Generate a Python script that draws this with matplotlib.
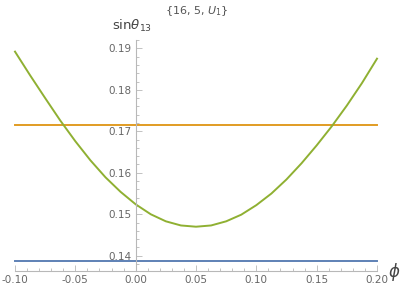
import numpy as np
import matplotlib
matplotlib.use('Agg')
import matplotlib.pyplot as plt
from matplotlib.ticker import MultipleLocator, FormatStrFormatter

# values
phi = [-0.10, -0.0875, -0.075, -0.0625, -0.05, -0.0375, -0.025, -0.0125,
       0.0, 0.0125, 0.025, 0.0375, 0.05, 0.0625, 0.075, 0.0875,
       0.10, 0.1125, 0.125, 0.1375, 0.15, 0.1625, 0.175, 0.1875, 0.20]
s13_green = [0.1892, 0.1835, 0.1780, 0.1726, 0.1676, 0.1630, 0.1589, 0.1554,
             0.1524, 0.1500, 0.1483, 0.1473, 0.1470, 0.1473, 0.1483, 0.1499,
             0.1522, 0.1550, 0.1584, 0.1623, 0.1666, 0.1712, 0.1762, 0.1816, 0.1875]
s13_orange = 0.1716
s13_blue = 0.1387
phi_range = [-0.10, 0.20]

fig = plt.figure(figsize=(4.06, 2.91), dpi=100)
ax = fig.add_axes([15/406, 0.0698, 362/406, 0.7927])

ax.plot(phi_range, [s13_blue]*2, color='#5E81B5', lw=1.4, clip_on=False)
ax.plot(phi_range, [s13_orange]*2, color='#E19C24', lw=1.4, clip_on=False)
ax.plot(phi, s13_green, color='#8FB032', lw=1.4, clip_on=False)

ax.set_xlim(-0.10, 0.20)
ax.set_ylim(0.1364, 0.1920)

for side in ['top', 'right']:
    ax.spines[side].set_visible(False)
ax.spines['left'].set_position(('data', 0))
for side in ['left', 'bottom']:
    ax.spines[side].set_color('#b8b8b8')
    ax.spines[side].set_linewidth(0.8)

ax.xaxis.set_major_locator(MultipleLocator(0.05))
ax.xaxis.set_minor_locator(MultipleLocator(0.01))
ax.yaxis.set_major_locator(MultipleLocator(0.01))
ax.yaxis.set_minor_locator(MultipleLocator(0.002))
ax.xaxis.set_major_formatter(FormatStrFormatter('%.2f'))
ax.yaxis.set_major_formatter(FormatStrFormatter('%.2f'))
ax.tick_params(which='both', direction='in', color='#b8b8b8', labelcolor='#666666',
               labelsize=7.5, width=0.6)
ax.tick_params(which='major', length=4, pad=3)
ax.tick_params(which='minor', length=2.2)
ax.patch.set_alpha(0)

fig.text(197/406, 1 - 11/291, r'{16, 5, $U_1$}', ha='center', va='center',
         fontsize=8, color='#555555')
fig.text(112/406, 1 - 26/291, r'sin$\theta_{13}$', ha='left', va='center',
         fontsize=9.5, color='#444444')
fig.text(388/406, 1 - 272/291, r'$\phi$', ha='left', va='center',
         fontsize=12, color='#444444')

fig.savefig('out.png', dpi=100)
